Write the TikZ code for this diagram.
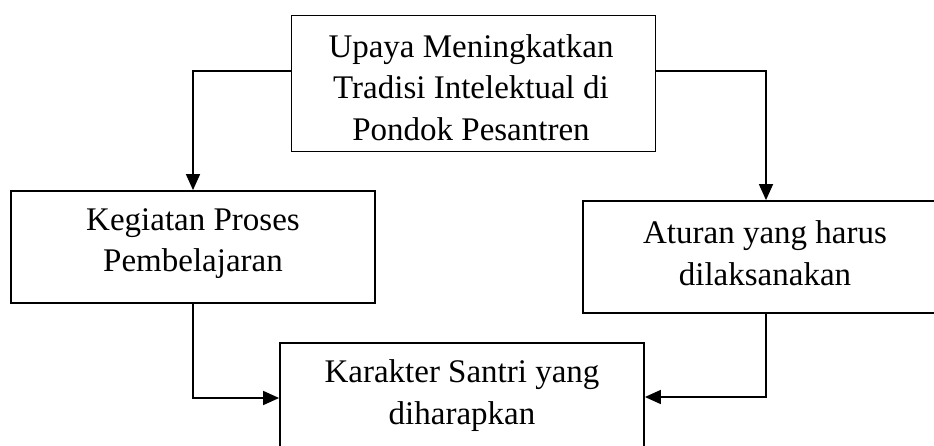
\documentclass[tikz,border=0pt]{standalone}
\usepackage{fontspec}
\setmainfont{Liberation Serif}
\usetikzlibrary{arrows.meta}
\begin{document}
\begin{tikzpicture}[x=1pt,y=-1pt,
  box/.style={draw,line width=1.8pt,inner sep=0pt,minimum width=364pt},
  label/.style={inner sep=0pt,align=center,anchor=north,font=\fontsize{33}{41.5}\selectfont},
  conn/.style={line width=1.5pt,-{Triangle[length=16pt,width=14pt]}}]
\useasboundingbox (0,0) rectangle (934,446);
\clip (0,0) rectangle (934,446);
\node[box,minimum height=136pt] (top) at (473.5,83.5) {};
\node[label] (toptext) at (471,34.2)
  {Upaya Meningkatkan\\Tradisi Intelektual di\\Pondok Pesantren};
\node[box,minimum height=112pt] (left) at (193,247) {};
\node[label] (lefttext) at (193,208.3) {Kegiatan Proses\\Pembelajaran};
\node[box,minimum height=112pt] (right) at (765,257) {};
\node[label] (righttext) at (765,220.5) {Aturan yang harus\\dilaksanakan};
\node[box,minimum height=112pt,anchor=north] (bottom) at (462,342) {};
\node[label] (bottomtext) at (462,359.5) {Karakter Santri yang\\diharapkan};
\coordinate (tl) at (193,71);
\coordinate (tr) at (766,71);
\coordinate (bl) at (193,398);
\coordinate (br) at (766,397);
\draw[conn] (top.west |- tl) -- (tl) -- (left.north);
\draw[conn] (top.east |- tr) -- (tr) -- (tr |- right.north);
\draw[conn] (left.south) -- (bl) -- (bl -| bottom.west);
\draw[conn] (tr |- right.south) -- (br) -- (br -| bottom.east);
\end{tikzpicture}
\end{document}
